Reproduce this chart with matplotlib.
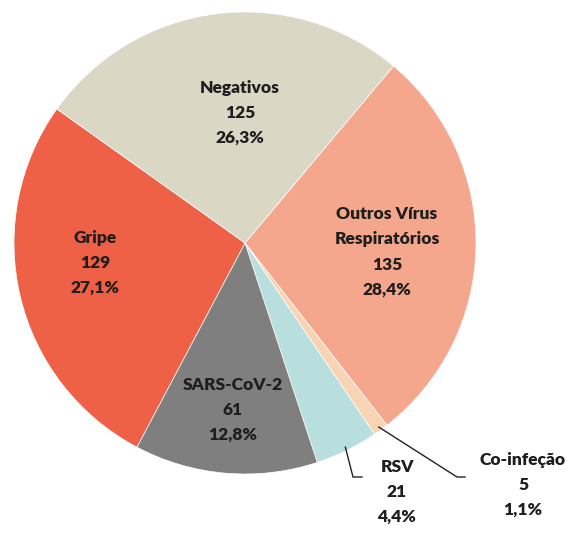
import numpy as np
import matplotlib
matplotlib.use('Agg')
import matplotlib.pyplot as plt

categories = ["Outros Vírus\nRespiratórios", "Co-infeção", "RSV", "SARS-CoV-2", "Gripe", "Negativos"]
counts = [135, 5, 21, 61, 129, 125]
percents = ["28,4%", "1,1%", "4,4%", "12,8%", "27,1%", "26,3%"]
colors = ["#F4A78D", "#F9D4B4", "#B8DEDD", "#7F7F7F", "#EE6146", "#DAD7C5"]

# figure pixel geometry (pie centre and radius in pixels)
W, H, DPI = 573, 533, 100
CX, CY, R = 245, 243, 231


def px(x, y):
    return (x - CX) / R, (CY - y) / R


def main():
    fig = plt.figure(figsize=(W / DPI, H / DPI), dpi=DPI)
    ax = fig.add_axes([0, 0, 1, 1])
    wedges, _ = ax.pie(counts, colors=colors, startangle=50, counterclock=False,
                       radius=1.0, wedgeprops=dict(edgecolor="white", linewidth=0.5))
    ax.set_xlim(-CX / R, (W - CX) / R)
    ax.set_ylim((CY - H) / R, CY / R)
    ax.set_aspect('equal')
    ax.axis('off')

    # label centres in pixel coords
    label_pos = [(387, 252), (523, 485), (397, 492), (233, 410), (95, 263), (240, 113)]
    txt = dict(ha='center', va='center', fontsize=12.5, fontweight='heavy',
               color='#1e1e1e', family=['Lato', 'DejaVu Sans'], linespacing=1.7)
    for name, n, p, (x, y) in zip(categories, counts, percents, label_pos):
        ax.text(*px(x, y), f"{name}\n{n}\n{p}", **txt)

    # leader lines for small slices
    for i, pts in [(2, [(353, 477), (362, 477)]), (1, [(457, 477), (465, 477)])]:
        w = wedges[i]
        th = np.deg2rad((w.theta1 + w.theta2) / 2)
        xs = [np.cos(th) * 0.985] + [px(*q)[0] for q in pts]
        ys = [np.sin(th) * 0.985] + [px(*q)[1] for q in pts]
        ax.plot(xs, ys, color='#222222', linewidth=1.0)

    fig.savefig("out.png", dpi=DPI)


if __name__ == "__main__":
    main()
